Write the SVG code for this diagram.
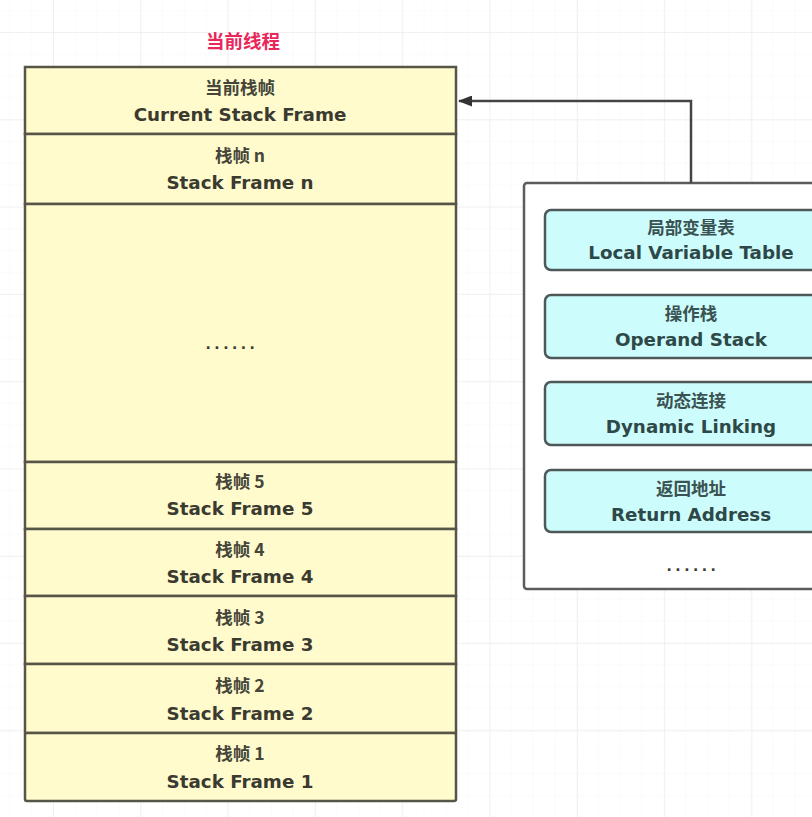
<svg xmlns="http://www.w3.org/2000/svg" width="812" height="817" viewBox="0 0 812 817">
<defs>
<pattern id="minor" x="53" y="32" width="21.8" height="21.8" patternUnits="userSpaceOnUse">
<path d="M0 0H21.8M0 0V21.8" fill="none" stroke="#f7f7f7" stroke-width="1"/>
</pattern>
<pattern id="major" x="53" y="32" width="87.3" height="87.3" patternUnits="userSpaceOnUse">
<path d="M0 0H87.3M0 0V87.3" fill="none" stroke="#ededed" stroke-width="1.5"/>
</pattern>
<marker id="arr" markerWidth="14" markerHeight="11" refX="13" refY="5.5" orient="auto" markerUnits="userSpaceOnUse">
<path d="M0 0L14 5.5L0 11Z" fill="#333"/>
</marker>
<style>
.cell{fill:#fffbcc;stroke:#555548;stroke-width:2.5}
.box{fill:#cdfcfc;stroke:#4f5858;stroke-width:2.5}
.panel{fill:#fff;stroke:#5c5c5c;stroke-width:2.5}
.zh{font-family:"Noto Sans CJK SC","Noto Sans",sans-serif;font-weight:bold;font-size:17.5px;fill:#45453a;text-anchor:middle}
.en{font-family:"DejaVu Sans",sans-serif;font-weight:bold;font-size:18.3px;fill:#3a3a30;text-anchor:middle}
.zh2{font-family:"Noto Sans CJK SC","Noto Sans",sans-serif;font-weight:bold;font-size:17.5px;fill:#3a5252;text-anchor:middle}
.en2{font-family:"DejaVu Sans",sans-serif;font-weight:bold;font-size:18.3px;fill:#2e4848;text-anchor:middle}
.dots{font-family:"DejaVu Sans",sans-serif;font-weight:bold;font-size:14px;letter-spacing:3.5px;fill:#3a3a30;text-anchor:middle}
.title{font-family:"Noto Sans CJK SC","Noto Sans",sans-serif;font-weight:bold;font-size:18.5px;fill:#e8285a;text-anchor:middle}
</style>
</defs>
<rect width="812" height="817" fill="#fff"/>
<rect width="812" height="817" fill="url(#minor)"/>
<rect width="812" height="817" fill="url(#major)"/>

<text class="title" x="243" y="48">当前线程</text>

<g id="stack">
<g id="current-frame"><rect class="cell" x="25" y="67" width="431" height="67"/><text class="zh" x="240" y="94">当前栈帧</text><text class="en" x="240" y="121">Current Stack Frame</text></g>
<g id="frame-n"><rect class="cell" x="25" y="134" width="431" height="70"/><text class="zh" x="240" y="162">栈帧 n</text><text class="en" x="240" y="189">Stack Frame n</text></g>
<g id="frame-dots"><rect class="cell" x="25" y="204" width="431" height="258"/><text class="dots" x="232" y="349">......</text></g>
<g id="frame-5"><rect class="cell" x="25" y="462" width="431" height="67"/><text class="zh" x="240" y="488">栈帧 5</text><text class="en" x="240" y="515">Stack Frame 5</text></g>
<g id="frame-4"><rect class="cell" x="25" y="529" width="431" height="67"/><text class="zh" x="240" y="556">栈帧 4</text><text class="en" x="240" y="583">Stack Frame 4</text></g>
<g id="frame-3"><rect class="cell" x="25" y="596" width="431" height="68"/><text class="zh" x="240" y="624">栈帧 3</text><text class="en" x="240" y="651">Stack Frame 3</text></g>
<g id="frame-2"><rect class="cell" x="25" y="664" width="431" height="69"/><text class="zh" x="240" y="692">栈帧 2</text><text class="en" x="240" y="720">Stack Frame 2</text></g>
<g id="frame-1"><rect class="cell" x="25" y="733" width="431" height="68" rx="2"/><text class="zh" x="240" y="760">栈帧 1</text><text class="en" x="240" y="788">Stack Frame 1</text></g>
</g>

<g id="frame-detail">
<rect class="panel" x="524" y="183" width="340" height="406" rx="3"/>
<g id="local-variable-table"><rect class="box" x="545" y="210" width="290" height="60" rx="6"/><text class="zh2" x="691" y="234">局部变量表</text><text class="en2" x="691" y="259">Local Variable Table</text></g>
<g id="operand-stack"><rect class="box" x="545" y="295" width="290" height="63" rx="6"/><text class="zh2" x="691" y="320">操作栈</text><text class="en2" x="691" y="346">Operand Stack</text></g>
<g id="dynamic-linking"><rect class="box" x="545" y="382" width="290" height="63" rx="6"/><text class="zh2" x="691" y="407">动态连接</text><text class="en2" x="691" y="433">Dynamic Linking</text></g>
<g id="return-address"><rect class="box" x="545" y="470" width="290" height="62" rx="6"/><text class="zh2" x="691" y="495">返回地址</text><text class="en2" x="691" y="521">Return Address</text></g>
<text class="dots" x="693" y="571">......</text>
</g>

<g id="connectors">
<path d="M691 183V101H459" fill="none" stroke="#444" stroke-width="2.5" marker-end="url(#arr)"/>
</g>
</svg>
